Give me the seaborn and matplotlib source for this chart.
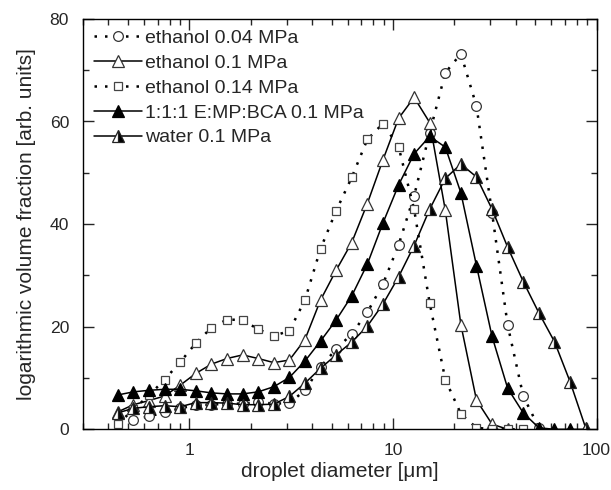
import numpy as np
import pandas as pd
import matplotlib
matplotlib.use("Agg")
import matplotlib.pyplot as plt
import seaborn as sns

# droplet diameter bins [um]
diameter = [0.445, 0.531, 0.633, 0.755, 0.901, 1.075, 1.282, 1.530, 1.825, 2.177,
            2.597, 3.098, 3.695, 4.408, 5.258, 6.272, 7.482, 8.926, 10.65, 12.70,
            15.15, 18.08, 21.56, 25.72, 30.68, 36.60, 43.66, 52.09, 62.13, 74.12, 88.42]
nan = np.nan
ethanol_004 = [nan, 1.9, 2.5, 3.3, 4.1, 4.7, 4.8, 5.0, 5.0, 5.3, 5.0, 5.1, 7.6, 12.2, 15.6,
               18.6, 22.8, 28.3, 35.9, 45.5, 57.8, 69.5, 73.2, 63.0, 42.2, 20.3, 6.5, 0.3,
               nan, nan, nan]
ethanol_01 = [3.4, 4.8, 5.6, 6.5, 8.6, 10.9, 12.7, 13.8, 14.5, 13.8, 13.0, 13.5, 17.5, 25.2,
              31.0, 36.4, 44.0, 52.5, 60.6, 64.7, 59.8, 42.7, 20.4, 5.7, 1.0, 0.0,
              nan, nan, nan, nan, nan]
ethanol_014 = [1.0, 3.9, 6.6, 9.7, 13.1, 16.8, 19.8, 21.4, 21.3, 19.5, 18.2, 19.2, 25.2, 35.2,
               42.6, 49.1, 56.5, 59.6, 55.1, 42.9, 24.6, 9.7, 3.0, 0.3, 0.0, 0.0, 0.0,
               nan, nan, nan, nan]
emp_bca = [6.7, 7.3, 7.6, 7.8, 7.8, 7.5, 7.1, 6.9, 6.9, 7.3, 8.3, 10.1, 13.3, 17.2, 21.3,
           26.0, 32.2, 40.2, 47.6, 53.7, 57.1, 55.0, 46.1, 31.9, 18.1, 8.0, 3.2, 0.3,
           0.0, 0.0, 0.0]
water = [3.2, 4.1, 4.4, 4.6, 4.4, 5.2, 5.2, 5.1, 4.8, 4.8, 4.9, 6.4, 9.0, 11.9, 14.5, 17.0,
         20.1, 24.4, 29.7, 35.8, 42.9, 48.9, 51.7, 49.2, 42.9, 35.5, 28.8, 22.7, 17.1, 9.3, 0.3]

labels = ["ethanol 0.04 MPa", "ethanol 0.1 MPa", "ethanol 0.14 MPa",
          "1:1:1 E:MP:BCA 0.1 MPa", "water 0.1 MPa"]
series = [ethanol_004, ethanol_01, ethanol_014, emp_bca, water]

sns.set_style("ticks")
plt.rcParams['font.family'] = ['Liberation Sans', 'DejaVu Sans']
FS = 14
plt.rcParams['font.size'] = FS

fig = plt.figure(figsize=(6.11, 4.90), dpi=100)
L, R, T, B = 83, 596.5, 18.9, 429.3
ax = fig.add_axes([L / 611, 1 - B / 490, (R - L) / 611, (B - T) / 490])

dot = (0, (1.0, 3.2))
styles = [
    dict(marker='o', linestyle=dot, lw=1.8, markersize=7, markerfacecolor='white',
         markeredgecolor='#333333', markeredgewidth=0.9),
    dict(marker='^', linestyle='-', lw=1.1, markersize=8.5, markerfacecolor='white',
         markeredgecolor='#333333', markeredgewidth=0.9),
    dict(marker='s', linestyle=dot, lw=1.8, markersize=6, markerfacecolor='white',
         markeredgecolor='#444444', markeredgewidth=0.9),
    dict(marker='^', linestyle='-', lw=1.1, markersize=8.5, markerfacecolor='black',
         markeredgecolor='black', markeredgewidth=0.9),
    dict(marker='^', linestyle='-', lw=1.1, markersize=8.5, markerfacecolor='black',
         markerfacecoloralt='white', fillstyle='right',
         markeredgecolor='#222222', markeredgewidth=0.9),
]

for vals, lab, st in zip(series, labels, styles):
    df = pd.DataFrame({"d": diameter, "v": vals}).dropna()
    sns.lineplot(data=df, x="d", y="v", ax=ax, color='black', label=lab,
                 estimator=None, sort=False, **st)

ax.set_xscale('log')
ax.set_xlim(0.3, 100)
ax.set_ylim(0, 80)
ax.set_yticks([0, 20, 40, 60, 80])
ax.set_yticks([10, 30, 50, 70], minor=True)
ax.set_xticks([1, 10, 100])
ax.set_xticklabels(["1", "10", "100"])
ax.tick_params(which='both', direction='in', top=True, right=True, width=1, labelsize=12.6)
ax.tick_params(which='major', length=8)
ax.tick_params(which='minor', length=4)
ax.tick_params(axis='x', which='major', pad=10)
ax.tick_params(axis='y', which='major', pad=10)
for s in ax.spines.values():
    s.set_linewidth(1.0)
    s.set_color('black')

ax.set_xlabel("droplet diameter [μm]", fontsize=15, labelpad=3)
ax.set_ylabel("logarithmic volume fraction [arb. units]", fontsize=15, labelpad=10)

leg = ax.legend(loc='upper left', frameon=False, fontsize=FS, handlelength=2.5,
                handletextpad=0.15, labelspacing=0.37, borderaxespad=0.15,
                bbox_to_anchor=(0.0, 1.0))

fig.savefig("out.png", dpi=100)
